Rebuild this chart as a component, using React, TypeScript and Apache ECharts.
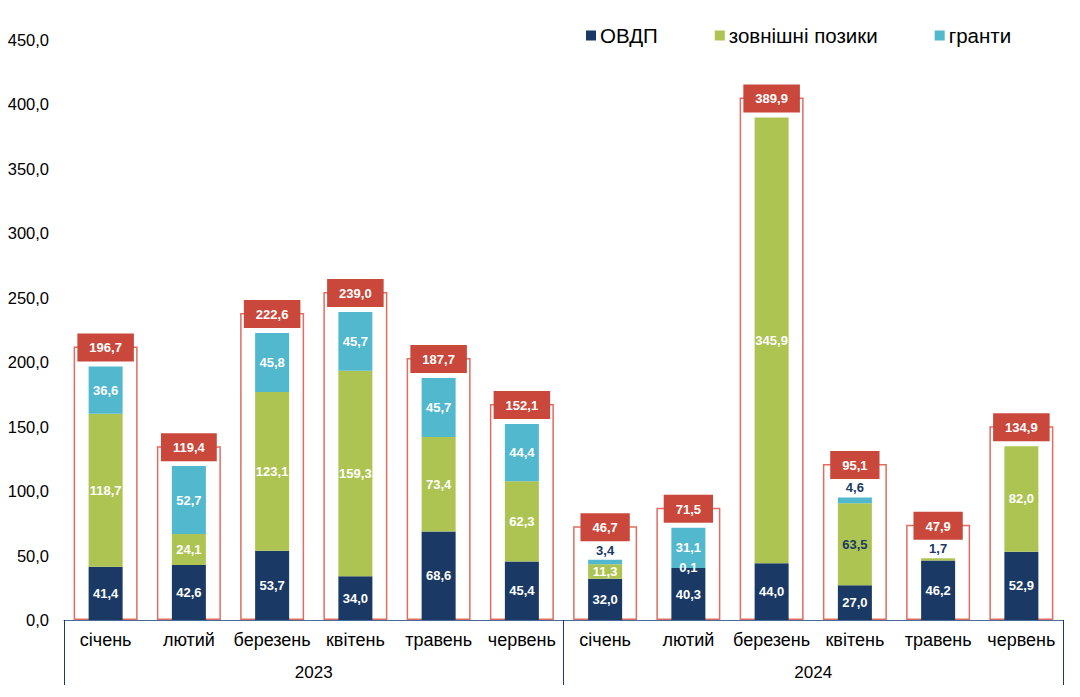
import React, { useEffect, useRef } from "react";
import * as echarts from "echarts";

const months = [
  "січень", "лютий", "березень", "квітень", "травень", "червень",
  "січень", "лютий", "березень", "квітень", "травень", "червень",
];
const years = ["2023", "2024"];
const ovdp = [41.4, 42.6, 53.7, 34.0, 68.6, 45.4, 32.0, 40.3, 44.0, 27.0, 46.2, 52.9];
const loans = [118.7, 24.1, 123.1, 159.3, 73.4, 62.3, 11.3, 0.1, 345.9, 63.5, 1.7, 82.0];
const grants = [36.6, 52.7, 45.8, 45.7, 45.7, 44.4, 3.4, 31.1, 0, 4.6, 0, 0];
const totals = [196.7, 119.4, 222.6, 239.0, 187.7, 152.1, 46.7, 71.5, 389.9, 95.1, 47.9, 134.9];

const NAVY = "#1A3964";
const GREEN = "#ADC453";
const CYAN = "#52B8CE";
const RED = "#C9483B";
const OUTLINE = "#DF6E62";
const FONT = "'Liberation Sans', Arial, sans-serif";
const OUTLINE_PAD = 15.5;
const OUTLINE_PAD_TOPLABEL = 26;

const topGrants = [6, 9];
const topLoans = [10];
const darkLoans = [9];
const withTopLabel = [6, 9, 10];

const fmt = (v: number) => v.toFixed(1).replace(".", ",");

const segLabel = {
  show: true,
  position: "inside",
  color: "#fff",
  fontWeight: "bold",
  fontSize: 13,
  fontFamily: FONT,
  formatter: (p: any) => (p.value === 0 ? "" : fmt(p.value)),
};

function buildData(values: number[], topIdx: number[], darkIdx: number[]) {
  return values.map((v, i) => {
    if (topIdx.includes(i)) {
      return { value: v, label: { position: "top", distance: 3, color: NAVY } };
    }
    if (darkIdx.includes(i)) {
      return { value: v, label: { color: NAVY } };
    }
    return v;
  });
}

export default function App() {
  const ref = useRef<HTMLDivElement>(null);
  useEffect(() => {
    if (!ref.current) return;
    const chart = echarts.init(ref.current, undefined, { renderer: "svg" });
    chart.setOption({
      animation: false,
      textStyle: { fontFamily: FONT },
      legend: {
        left: 581,
        top: 20,
        icon: "rect",
        itemWidth: 10,
        itemHeight: 10,
        itemGap: 57,
        textStyle: { fontSize: 20.5, color: "#000", fontFamily: FONT, padding: [0, 0, 0, -1] },
        data: ["ОВДП", "зовнішні позики", "гранти"],
      },
      grid: { left: 64, right: 17, top: 40, bottom: 77 },
      xAxis: [
        {
          type: "category",
          data: months,
          position: "bottom",
          axisLine: { show: true, lineStyle: { color: "#4A6D97", width: 1 } },
          axisTick: { show: false },
          axisLabel: { color: "#000", fontSize: 18, margin: 11, fontFamily: FONT, interval: 0 },
        },
        {
          type: "category",
          data: months,
          show: false,
        },
        {
          type: "category",
          data: years,
          position: "bottom",
          axisLine: { show: false },
          axisTick: { show: true, length: 65, lineStyle: { color: "#1F3A5F", width: 1 } },
          axisLabel: { color: "#000", fontSize: 17, margin: 44, fontFamily: FONT },
        },
      ],
      yAxis: {
        type: "value",
        min: 0,
        max: 450,
        interval: 50,
        splitLine: { show: false },
        axisLine: { show: false },
        axisTick: { show: false },
        axisLabel: {
          color: "#000",
          fontSize: 16.5,
          margin: 15,
          fontFamily: FONT,
          formatter: (v: number) => fmt(v),
        },
      },
      series: [
        {
          name: "outline",
          type: "bar",
          xAxisIndex: 1,
          barWidth: 64,
          z: 1,
          data: totals.map((t, i) => t + (withTopLabel.includes(i) ? OUTLINE_PAD_TOPLABEL : OUTLINE_PAD)),
          itemStyle: { color: "rgba(0,0,0,0)", borderColor: OUTLINE, borderWidth: 1.5 },
          label: {
            show: true,
            position: "top",
            distance: 0,
            offset: [0, 15],
            backgroundColor: RED,
            color: "#fff",
            fontWeight: "bold",
            fontSize: 13,
            fontFamily: FONT,
            padding: [8, 12, 7, 12],
            formatter: (p: any) => fmt(totals[p.dataIndex]),
          },
          emphasis: { disabled: true },
          tooltip: { show: false },
        },
        {
          name: "ОВДП",
          type: "bar",
          stack: "total",
          barWidth: 34,
          z: 3,
          itemStyle: { color: NAVY },
          label: segLabel,
          data: ovdp,
        },
        {
          name: "зовнішні позики",
          type: "bar",
          stack: "total",
          barWidth: 34,
          z: 3,
          itemStyle: { color: GREEN },
          label: segLabel,
          data: buildData(loans, topLoans, darkLoans),
        },
        {
          name: "гранти",
          type: "bar",
          stack: "total",
          barWidth: 34,
          z: 3,
          itemStyle: { color: CYAN },
          label: segLabel,
          data: buildData(grants, topGrants, []),
        },
      ],
    });
    return () => chart.dispose();
  }, []);
  return (
    <div
      ref={ref}
      style={{ position: "fixed", left: 0, top: 0, width: 1080, height: 697, background: "#fff" }}
    />
  );
}
